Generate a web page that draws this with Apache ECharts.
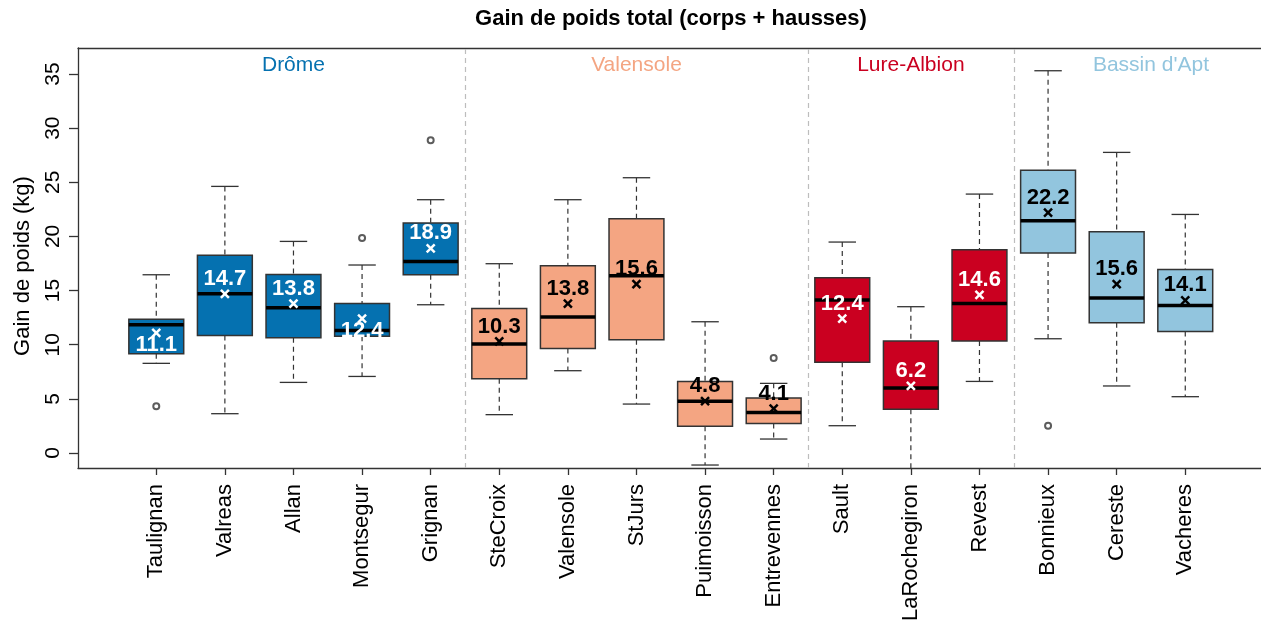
<!DOCTYPE html>
<html>
<head>
<meta charset="utf-8">
<script src="https://cdn.jsdelivr.net/npm/echarts@6/dist/echarts.min.js"></script>
<style>
html,body{margin:0;padding:0;background:#fff;}
#chart{width:1261px;height:627px;}
</style>
</head>
<body>
<div id="chart"></div>
<script>
// ---------- DATA ----------
const categories = ['Taulignan','Valreas','Allan','Montsegur','Grignan','SteCroix','Valensole','StJurs','Puimoisson','Entrevennes','Sault','LaRochegiron','Revest','Bonnieux','Cereste','Vacheres'];
const lowerWhisker = [8.28, 3.63, 6.52, 7.07, 13.69, 3.54, 7.6, 4.52, -1.11, 1.29, 2.52, -2.0, 6.61, 10.55, 6.19, 5.2];
const q1           = [9.17, 10.86, 10.65, 10.77, 16.46, 6.86, 9.66, 10.46, 2.46, 2.73, 8.37, 4.03, 10.34, 18.47, 12.03, 11.23];
const median       = [11.85, 14.71, 13.42, 11.32, 17.69, 10.06, 12.56, 16.37, 4.77, 3.75, 14.13, 6.0, 13.81, 21.45, 14.31, 13.63];
const q3           = [12.34, 18.25, 16.49, 13.81, 21.24, 13.35, 17.29, 21.63, 6.61, 5.08, 16.19, 10.34, 18.77, 26.1, 20.43, 16.95];
const upperWhisker = [16.46, 24.62, 19.54, 17.36, 23.39, 17.48, 23.39, 25.42, 12.12, 6.43, 19.48, 13.51, 23.91, 35.3, 27.76, 22.03];
const means        = [11.1, 14.7, 13.8, 12.4, 18.9, 10.3, 13.8, 15.6, 4.8, 4.1, 12.4, 6.2, 14.6, 22.2, 15.6, 14.1];
const outlierCategory = ['Taulignan','Montsegur','Grignan','Entrevennes','Bonnieux'];
const outlierValue    = [4.31, 19.85, 28.87, 8.77, 2.52];
const groupNames = ['Drôme','Valensole','Lure-Albion',"Bassin d'Apt"];
const groupFirst = [0, 5, 10, 13];
const groupLast  = [4, 9, 12, 16];
const yTicks = [0, 5, 10, 15, 20, 25, 30, 35];
const meanLabelBelow = ['Taulignan','Montsegur'];

// ---------- STYLE ----------
const groupColors = ['#0571B0', '#F4A582', '#CA0020', '#92C5DE'];
const groupTextColors = ['#ffffff', '#000000', '#ffffff', '#000000'];
const FONT = '"Liberation Sans", Arial, sans-serif';
const LINE = '#333333';

function groupOf(i) {
  for (let g = 0; g < groupFirst.length; g++) {
    if (i >= groupFirst[g] && i <= groupLast[g]) return g;
  }
  return 0;
}

const boxData = categories.map((c, i) => [i, lowerWhisker[i], q1[i], median[i], q3[i], upperWhisker[i], means[i]]);
const outlierData = outlierCategory.map((c, k) => [categories.indexOf(c), outlierValue[k]]);
const groupData = groupNames.map((n, g) => [(groupFirst[g] + groupLast[g]) / 2, g]);
const dividers = groupLast.slice(0, -1).map(v => ({ xAxis: v + 0.5 }));

const chart = echarts.init(document.getElementById('chart'), null, { renderer: 'canvas' });

function renderBox(params, api) {
  const i = api.value(0);
  const g = groupOf(i);
  const band = api.size([1, 0])[0];
  const x = api.coord([i, 0])[0];
  const y = k => api.coord([i, api.value(k)])[1];
  const yLo = y(1), yQ1 = y(2), yMed = y(3), yQ3 = y(4), yHi = y(5), yMean = y(6);
  const hw = band * 0.4, cw = band * 0.2;
  const dash = { stroke: LINE, lineWidth: 1.2, lineDash: [5, 4] };
  const solid = { stroke: LINE, lineWidth: 1.3 };
  const tc = groupTextColors[g];
  const m = 4;
  const below = meanLabelBelow.indexOf(categories[i]) >= 0;
  return {
    type: 'group',
    children: [
      { type: 'line', shape: { x1: x, y1: yHi, x2: x, y2: yQ3 }, style: dash },
      { type: 'line', shape: { x1: x, y1: yQ1, x2: x, y2: yLo }, style: dash },
      { type: 'line', shape: { x1: x - cw, y1: yHi, x2: x + cw, y2: yHi }, style: solid },
      { type: 'line', shape: { x1: x - cw, y1: yLo, x2: x + cw, y2: yLo }, style: solid },
      { type: 'rect', shape: { x: x - hw, y: yQ3, width: 2 * hw, height: yQ1 - yQ3 },
        style: { fill: groupColors[g], stroke: LINE, lineWidth: 1.5 } },
      { type: 'line', shape: { x1: x - hw, y1: yMed, x2: x + hw, y2: yMed }, style: { stroke: '#000', lineWidth: 3.5 } },
      { type: 'line', shape: { x1: x - m, y1: yMean - m, x2: x + m, y2: yMean + m }, style: { stroke: tc, lineWidth: 2.5 } },
      { type: 'line', shape: { x1: x - m, y1: yMean + m, x2: x + m, y2: yMean - m }, style: { stroke: tc, lineWidth: 2.5 } },
      { type: 'text', style: { text: api.value(6).toFixed(1), x: x, y: below ? yMean + 12 : yMean - 15,
        align: 'center', verticalAlign: 'middle', fill: tc,
        fontSize: 22, fontWeight: 'bold', fontFamily: FONT } }
    ]
  };
}

function renderGroupLabel(params, api) {
  const g = api.value(1);
  const x = api.coord([api.value(0), 0])[0];
  return {
    type: 'text',
    style: { text: groupNames[g], x: x, y: params.coordSys.y + 17, align: 'center', verticalAlign: 'middle',
      fill: groupColors[g], fontSize: 21, fontFamily: FONT }
  };
}

const xMin = -1.141, xMax = 16.104;

chart.setOption({
  animation: false,
  backgroundColor: '#fff',
  graphic: [
    { type: 'text', x: 671, y: 19, style: { text: 'Gain de poids total (corps + hausses)', align: 'center', verticalAlign: 'middle',
      fill: '#000', fontSize: 22, fontWeight: 'bold', fontFamily: FONT } },
    { type: 'text', x: 23, y: 266, rotation: Math.PI / 2, style: { text: 'Gain de poids (kg)', align: 'center', verticalAlign: 'middle',
      fill: '#000', fontSize: 22, fontFamily: FONT } }
  ],
  grid: { left: 78, right: 0, top: 48, bottom: 159 },
  xAxis: [
    {
      type: 'value', min: xMin, max: xMax, position: 'bottom',
      axisLine: { show: true, onZero: false, lineStyle: { color: LINE, width: 1.3 } },
      axisTick: { show: true, length: 7, customValues: categories.map((c, i) => i), lineStyle: { color: LINE, width: 1.3 } },
      axisLabel: { customValues: categories.map((c, i) => i), formatter: v => categories[Math.round(v)] || '',
        rotate: 90, margin: 16, color: '#000', fontSize: 22, fontFamily: FONT },
      splitLine: { show: false }
    },
    {
      type: 'value', min: xMin, max: xMax, position: 'top',
      axisLine: { show: true, onZero: false, lineStyle: { color: LINE, width: 1.3 } },
      axisTick: { show: false }, axisLabel: { show: false }, splitLine: { show: false }
    }
  ],
  yAxis: {
    type: 'value', min: -1.385, max: 37.4,
    axisLine: { show: true, onZero: false, lineStyle: { color: LINE, width: 1.3 } },
    axisTick: { show: true, length: 9, customValues: yTicks, lineStyle: { color: LINE, width: 1.3 } },
    axisLabel: { customValues: yTicks, rotate: 90, margin: 14, color: '#000', fontSize: 21, fontFamily: FONT },
    splitLine: { show: false }
  },
  series: [
    {
      type: 'scatter', data: outlierData, symbol: 'emptyCircle', symbolSize: 6,
      itemStyle: { color: LINE, borderColor: LINE, borderWidth: 1.2 },
      markLine: { silent: true, symbol: 'none', label: { show: false },
        lineStyle: { color: '#bdbdbd', type: [5, 4], width: 1.2 }, data: dividers },
      z: 5
    },
    { type: 'custom', data: boxData, renderItem: renderBox, clip: true, z: 3 },
    { type: 'custom', data: groupData, renderItem: renderGroupLabel, z: 4 }
  ]
});
</script>
</body>
</html>
